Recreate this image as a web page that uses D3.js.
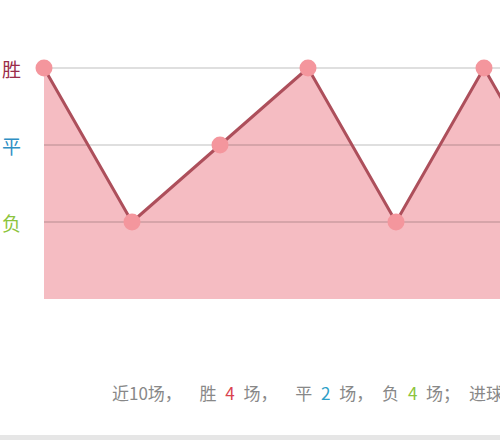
<!DOCTYPE html>
<html>
<head>
<meta charset="utf-8">
<script src="https://cdn.jsdelivr.net/npm/d3@7"></script>
<style>
  body { margin: 0; background: #fff; overflow: hidden; }
  svg { display: block; font-family: "Noto Sans CJK SC", "DejaVu Sans", sans-serif; }
</style>
</head>
<body>
<div class="graph"></div>
<script>
// data: last 10 matches, 3 = win, 2 = draw, 1 = loss
var matches = [1, 2, 3, 4, 5, 6, 7, 8, 9, 10]
var results = [3, 1, 2, 3, 1, 3, 1, 3, 2, 1]
var levels = [3, 2, 1]
var levelNames = ['胜', '平', '负']
var levelColors = ['#9a2c4a', '#2f8fc4', '#8cc43c']
var summary = [
    {t: '近10场，  ', c: '#888'},
    {t: '胜 ', c: '#888'}, {t: '4', c: '#d9434f'}, {t: ' 场，  ', c: '#888'},
    {t: '平 ', c: '#888'}, {t: '2', c: '#2f9fc8'}, {t: ' 场， ', c: '#888'},
    {t: '负 ', c: '#888'}, {t: '4', c: '#8cc43c'}, {t: ' 场； ', c: '#888'},
    {t: '进球 15 个，失球 14 个', c: '#888'}
]

var basewidth = 500
var baseheight = 440

var svg = d3.select('.graph')
    .append('svg')
    .attr('width', basewidth)
    .attr('height', baseheight)

// scales
var x = d3.scaleLinear()
    .domain([1, 2])
    .range([44, 132])
var y = d3.scaleLinear()
    .domain([0, 3])
    .range([299, 68])

// area
var area = d3.area()
    .x(function(d, i) { return x(matches[i]) })
    .y0(y(0))
    .y1(function(d) { return y(d) })

svg.append('path')
    .datum(results)
    .attr('d', area)
    .style('fill', '#f5bcc2')

// grid lines (sit over the area)
svg.selectAll('.grid')
    .data(levels)
    .enter().append('line')
    .attr('class', 'grid')
    .attr('x1', x(1))
    .attr('x2', basewidth)
    .attr('y1', function(d) { return y(d) })
    .attr('y2', function(d) { return y(d) })
    .style('stroke', 'rgba(0,0,0,0.17)')
    .style('stroke-width', 1.5)

// line
var line = d3.line()
    .x(function(d, i) { return x(matches[i]) })
    .y(function(d) { return y(d) })

svg.append('path')
    .datum(results)
    .attr('d', line)
    .style('fill', 'none')
    .style('stroke', '#ad4f5b')
    .style('stroke-width', 3)
    .attr('stroke-linejoin', 'round')

// points
svg.selectAll('.dot')
    .data(results)
    .enter().append('circle')
    .attr('class', 'dot')
    .attr('cx', function(d, i) { return x(matches[i]) })
    .attr('cy', function(d) { return y(d) })
    .attr('r', 8.5)
    .style('fill', '#f4969d')

// y labels
svg.selectAll('.ylab')
    .data(levels)
    .enter().append('text')
    .attr('class', 'ylab')
    .attr('x', 21)
    .attr('y', function(d) { return y(d) })
    .attr('text-anchor', 'end')
    .attr('dominant-baseline', 'central')
    .style('font-size', '19px')
    .style('fill', function(d, i) { return levelColors[i] })
    .text(function(d, i) { return levelNames[i] })

// summary line (runs off the right edge like the original)
svg.append('text')
    .attr('x', 112)
    .attr('y', 400)
    .style('font-size', '17px')
    .style('word-spacing', '5px')
    .style('white-space', 'pre')
    .attr('xml:space', 'preserve')
    .selectAll('tspan')
    .data(summary)
    .enter().append('tspan')
    .style('fill', function(d) { return d.c })
    .text(function(d) { return d.t })

// bottom band
svg.append('rect')
    .attr('x', 0)
    .attr('y', 435)
    .attr('width', basewidth)
    .attr('height', 5)
    .style('fill', '#e6e6e6')
</script>
</body>
</html>
